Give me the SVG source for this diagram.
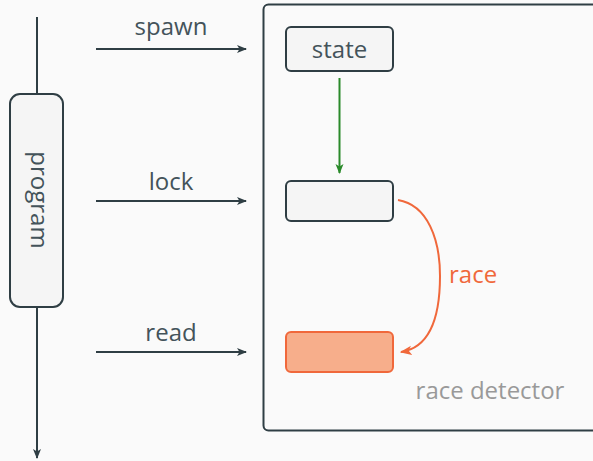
<svg xmlns="http://www.w3.org/2000/svg" width="593" height="461" viewBox="0 0 593 461">
  <style>
    text { font-family: "Open Sans", "Noto Sans", sans-serif; font-size: 24px; }
    .lbl { fill: #44535a; }
    .node { fill: #f5f5f5; stroke: #2f3e44; stroke-width: 2; }
    .hot { fill: #f7ae8b; stroke: #f0683b; stroke-width: 2; }
    .wire { fill: none; stroke: #2f3e44; stroke-width: 2; }
  </style>
  <defs>
    <marker id="ah" viewBox="0 0 10 10" refX="9" refY="5" markerWidth="10" markerHeight="10" markerUnits="userSpaceOnUse" orient="auto">
      <path d="M0,1 L10,5 L0,9 L2.5,5 Z" fill="#2f3e44"/>
    </marker>
    <marker id="ahg" viewBox="0 0 10 10" refX="9" refY="5" markerWidth="10" markerHeight="10" markerUnits="userSpaceOnUse" orient="auto">
      <path d="M0,1 L10,5 L0,9 L2.5,5 Z" fill="#2a8a2a"/>
    </marker>
    <marker id="aho" viewBox="0 0 10 10" refX="9" refY="5" markerWidth="12" markerHeight="12" markerUnits="userSpaceOnUse" orient="auto">
      <path d="M0,1 L10,5 L0,9 L2.5,5 Z" fill="#f0683b"/>
    </marker>
  </defs>

  <rect width="593" height="461" fill="#fafafa"/>

  <!-- detector frame -->
  <g id="detector">
    <rect x="263.5" y="4.5" width="345" height="426" rx="5" fill="none" stroke="#2f3e44" stroke-width="2"/>
    <text x="490" y="399" text-anchor="middle" fill="#999999">race detector</text>
  </g>

  <!-- program timeline -->
  <g id="program">
    <rect class="node" x="10" y="94" width="53" height="213" rx="10"/>
    <text class="lbl" transform="translate(31,200) rotate(90)" text-anchor="middle">program</text>
  </g>

  <g id="state">
    <rect class="node" x="286" y="27" width="107" height="44" rx="5"/>
    <text class="lbl" x="339.5" y="58" text-anchor="middle">state</text>
  </g>

  <g id="lock-slot">
    <rect class="node" x="286" y="181" width="107" height="40" rx="5"/>
  </g>

  <g id="read-slot">
    <rect class="hot" x="286" y="332" width="107" height="40" rx="5"/>
  </g>

  <g id="connectors">
    <line class="wire" x1="37" y1="17" x2="37" y2="94"/>
    <line class="wire" x1="37" y1="307" x2="37" y2="458" marker-end="url(#ah)"/>

    <line class="wire" x1="96" y1="49" x2="246" y2="49" marker-end="url(#ah)"/>
    <text class="lbl" x="171" y="35" text-anchor="middle">spawn</text>

    <line class="wire" x1="96" y1="201" x2="246" y2="201" marker-end="url(#ah)"/>
    <text class="lbl" x="171" y="190" text-anchor="middle">lock</text>

    <line class="wire" x1="96" y1="352" x2="246" y2="352" marker-end="url(#ah)"/>
    <text class="lbl" x="171" y="341" text-anchor="middle">read</text>

    <line x1="339.5" y1="78" x2="339.5" y2="173" stroke="#2a8a2a" stroke-width="2" marker-end="url(#ahg)"/>

    <path d="M398,200 C428,205 440,240 440,276 C440,320 428,348 401,352" fill="none" stroke="#f0683b" stroke-width="2" marker-end="url(#aho)"/>
    <text x="449" y="283" fill="#f0683b">race</text>
  </g>
</svg>
